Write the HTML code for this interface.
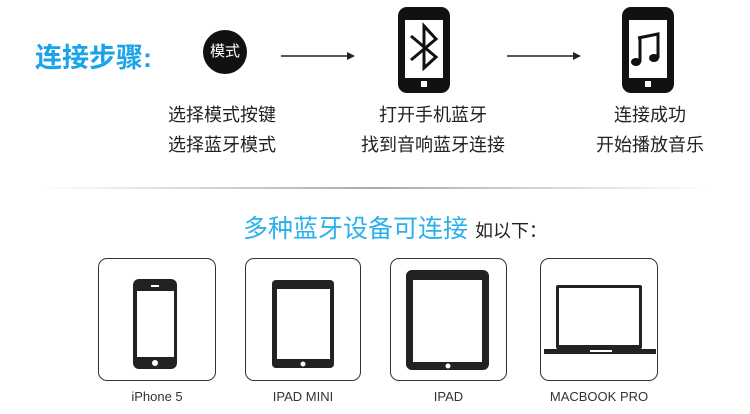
<!DOCTYPE html>
<html><head><meta charset="utf-8"><style>
body{margin:0;width:750px;height:414px;background:#fff;position:relative;overflow:hidden;font-family:"Liberation Sans","Noto Sans CJK SC",sans-serif}
.a{position:absolute;white-space:nowrap}
.t{font-size:18px;color:#222;text-align:center;line-height:30px}
.box{position:absolute;top:258px;height:123px;border:1.5px solid #333;border-radius:9px;box-sizing:border-box}
.lb{position:absolute;top:389px;font-size:13px;color:#333;text-align:center}
</style></head><body>
<div class="a" style="left:35px;top:36px;font-size:27px;font-weight:bold;color:#1aa3e8">连接步骤:</div>
<div class="a" style="left:203px;top:30px;width:44px;height:44px;border-radius:50%;background:#111;color:#fff;font-size:15px;line-height:44px;text-align:center">模式</div>
<svg class="a" style="left:0;top:0" width="750" height="200">
<line x1="281" y1="56" x2="352" y2="56" stroke="#222" stroke-width="1.5"/><path d="M347,52 L355,56 L347,60 Z" fill="#222"/>
<line x1="507" y1="56" x2="578" y2="56" stroke="#222" stroke-width="1.5"/><path d="M573,52 L581,56 L573,60 Z" fill="#222"/>
<rect x="398" y="7" width="52" height="86" rx="9" fill="#111"/><rect x="405" y="20" width="38" height="58" fill="#fff"/><rect x="421" y="81" width="6" height="6" fill="#fff"/>
<path d="M411,36 L436,57 L424,68 L424,26 L436,39 L411,60" fill="none" stroke="#111" stroke-width="3"/>
<rect x="622" y="7" width="52" height="86" rx="9" fill="#111"/><rect x="629" y="20" width="38" height="58" fill="#fff"/><rect x="645" y="81" width="6" height="6" fill="#fff"/>
<path d="M638,38 L658,34 L658,58 M640,38 L640,62" stroke="#111" stroke-width="3" fill="none"/><ellipse cx="636" cy="62" rx="5" ry="4" fill="#111"/><ellipse cx="654" cy="58" rx="5" ry="4" fill="#111"/>
<defs><linearGradient id="g"><stop offset="0" stop-color="#fff"/><stop offset=".5" stop-color="#aaa"/><stop offset="1" stop-color="#fff"/></linearGradient></defs>
<rect x="40" y="187" width="670" height="2" fill="url(#g)"/>
</svg>
<div class="a t" style="left:142px;top:100px;width:160px">选择模式按键<br>选择蓝牙模式</div>
<div class="a t" style="left:353px;top:100px;width:160px">打开手机蓝牙<br>找到音响蓝牙连接</div>
<div class="a t" style="left:570px;top:100px;width:160px">连接成功<br>开始播放音乐</div>
<div class="a" style="left:243px;top:209px;font-size:25px;color:#2ab0ec">多种蓝牙设备可连接 <span style="font-size:18px;color:#222">如以下：</span></div>
<div class="box" style="left:98px;width:118px"></div>
<div class="box" style="left:245px;width:116px"></div>
<div class="box" style="left:390px;width:117px"></div>
<div class="box" style="left:540px;width:118px"></div>
<svg class="a" style="left:0;top:250px" width="750" height="140">
<rect x="133" y="29" width="44" height="90" rx="6" fill="#222"/><rect x="137" y="41" width="37" height="66" fill="#fff"/><circle cx="155" cy="113" r="3" fill="#fff"/><rect x="151" y="35" width="8" height="2" fill="#fff"/>
<rect x="272" y="30" width="62" height="88" rx="4" fill="#222"/><rect x="277" y="39" width="53" height="70" fill="#fff"/><circle cx="303" cy="114" r="2.5" fill="#fff"/>
<rect x="406" y="20" width="83" height="100" rx="6" fill="#222"/><rect x="413" y="30" width="69" height="82" fill="#fff"/><circle cx="448" cy="116" r="2.5" fill="#fff"/>
<rect x="556" y="35" width="86" height="64" rx="2" fill="#222"/><rect x="559" y="38" width="80" height="57" fill="#fff"/><rect x="544" y="99" width="112" height="5" fill="#222"/><rect x="590" y="100" width="22" height="2" fill="#fff"/>
</svg>
<div class="lb" style="left:98px;width:118px">iPhone 5</div>
<div class="lb" style="left:245px;width:116px">IPAD MINI</div>
<div class="lb" style="left:390px;width:117px">IPAD</div>
<div class="lb" style="left:540px;width:118px">MACBOOK PRO</div>
</body></html>
